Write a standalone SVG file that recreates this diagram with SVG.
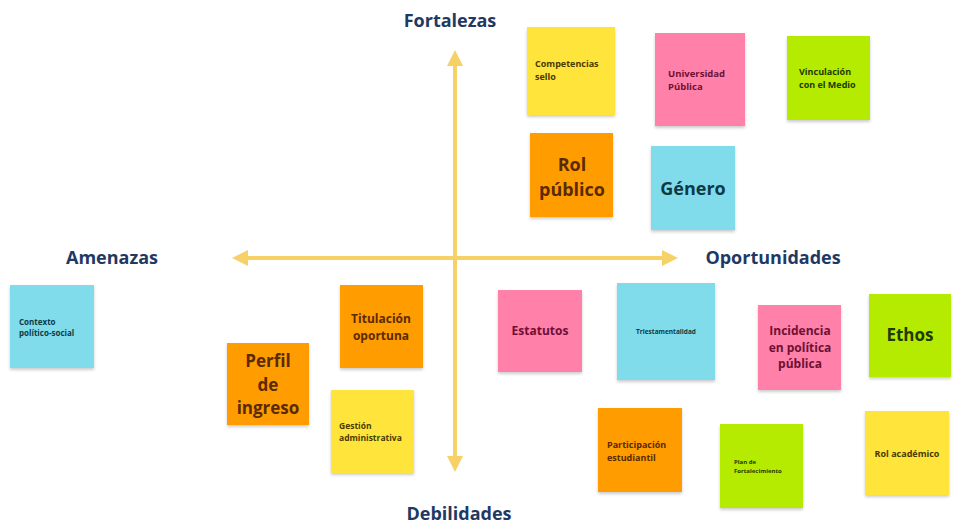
<svg xmlns="http://www.w3.org/2000/svg" width="957" height="529" viewBox="0 0 957 529">
<style>
.t{font-family:"Open Sans","Liberation Sans",sans-serif;font-weight:700;fill:#1F3864;font-size:18px;text-anchor:middle}
.n{font-family:"Open Sans","Liberation Sans",sans-serif;font-weight:700}
.y{fill:#FFE53B}.p{fill:#FF80A8}.g{fill:#B4EB00}.o{fill:#FF9C00}.c{fill:#80DCEB}
.ty{fill:#4A3A00}.tp{fill:#6E1036}.tg{fill:#1E3A00}.to{fill:#5A2A00}.tc{fill:#0E3A46}
.ax{stroke:#F5D168;stroke-width:4;fill:none}
</style>
<defs>
<filter id="sh" x="-10%" y="-10%" width="125%" height="125%"><feDropShadow dx="0" dy="2" stdDeviation="1.5" flood-color="#000" flood-opacity="0.2"/></filter>
<marker id="ah" viewBox="0 0 10 10" refX="5" refY="5" markerWidth="4" markerHeight="4" orient="auto-start-reverse"><path d="M0,0 L10,5 L0,10 Z" fill="#F5D168"/></marker>
</defs>
<rect width="957" height="529" fill="#FFFFFF"/>
<g id="connectors">
<line class="ax" x1="455" y1="464" x2="455" y2="58" marker-end="url(#ah)" marker-start="url(#ah)"/>
<line class="ax" x1="240" y1="258" x2="670" y2="258" marker-end="url(#ah)" marker-start="url(#ah)"/>
</g>
<g id="titles">
<text class="t" x="450" y="27">Fortalezas</text>
<text class="t" x="112" y="264">Amenazas</text>
<text class="t" x="773" y="264">Oportunidades</text>
<text class="t" x="459" y="520">Debilidades</text>
</g>
<g id="competencias"><rect class="y" x="527" y="27" width="88" height="88" filter="url(#sh)"/><text class="n ty" font-size="9"><tspan x="535" y="67">Competencias</tspan><tspan x="535" y="79.5">sello</tspan></text></g>
<g id="universidad"><rect class="p" x="655" y="33" width="90" height="93" filter="url(#sh)"/><text class="n tp" font-size="9.5"><tspan x="668" y="77">Universidad</tspan><tspan x="668" y="90">Pública</tspan></text></g>
<g id="vinculacion"><rect class="g" x="787" y="36" width="83" height="84" filter="url(#sh)"/><text class="n tg" font-size="9" font-weight="600"><tspan x="799" y="75">Vinculación</tspan><tspan x="799" y="87.5">con el Medio</tspan></text></g>
<g id="rolpublico"><rect class="o" x="530" y="133" width="83" height="84" filter="url(#sh)"/><text class="n to" font-size="18" text-anchor="middle"><tspan x="572" y="171">Rol</tspan><tspan x="572" y="196">público</tspan></text></g>
<g id="genero"><rect class="c" x="651" y="146" width="84" height="84" filter="url(#sh)"/><text class="n tc" font-size="18" text-anchor="middle" x="693" y="195">Género</text></g>
<g id="contexto"><rect class="c" x="10" y="285" width="84" height="83" filter="url(#sh)"/><text class="n tc" font-size="8"><tspan x="19" y="325">Contexto</tspan><tspan x="19" y="336">político-social</tspan></text></g>
<g id="titulacion"><rect class="o" x="340" y="285" width="83" height="83" filter="url(#sh)"/><text class="n to" font-size="12" text-anchor="middle"><tspan x="381" y="323">Titulación</tspan><tspan x="381" y="339.5">oportuna</tspan></text></g>
<g id="perfil"><rect class="o" x="227" y="343" width="82" height="82" filter="url(#sh)"/><text class="n to" font-size="17" text-anchor="middle"><tspan x="268" y="367">Perfil</tspan><tspan x="268" y="390.5">de</tspan><tspan x="268" y="414">ingreso</tspan></text></g>
<g id="gestion"><rect class="y" x="331" y="390" width="83" height="83" filter="url(#sh)"/><text class="n ty" font-size="8.5"><tspan x="339" y="429">Gestión</tspan><tspan x="339" y="441">administrativa</tspan></text></g>
<g id="estatutos"><rect class="p" x="498" y="290" width="84" height="82" filter="url(#sh)"/><text class="n tp" font-size="12" text-anchor="middle" x="540" y="335">Estatutos</text></g>
<g id="triestamentalidad"><rect class="c" x="617" y="283" width="98" height="97" filter="url(#sh)"/><text class="n tc" font-size="6.5" font-weight="400" text-anchor="middle" x="666" y="334">Triestamentalidad</text></g>
<g id="incidencia"><rect class="p" x="758" y="305" width="83" height="85" filter="url(#sh)"/><text class="n tp" font-size="12" text-anchor="middle"><tspan x="800" y="335">Incidencia</tspan><tspan x="800" y="351.5">en política</tspan><tspan x="800" y="368">pública</tspan></text></g>
<g id="ethos"><rect class="g" x="869" y="294" width="82" height="83" filter="url(#sh)"/><text class="n tg" font-size="17" text-anchor="middle" x="910" y="341">Ethos</text></g>
<g id="participacion"><rect class="o" x="598" y="408" width="84" height="84" filter="url(#sh)"/><text class="n to" font-size="9"><tspan x="607" y="448">Participación</tspan><tspan x="607" y="460.5">estudiantil</tspan></text></g>
<g id="plan"><rect class="g" x="720" y="424" width="83" height="84" filter="url(#sh)"/><text class="n tg" font-size="6" font-weight="400"><tspan x="734" y="464">Plan de</tspan><tspan x="734" y="472.5">Fortalecimiento</tspan></text></g>
<g id="rolacademico"><rect class="y" x="865" y="411" width="84" height="84" filter="url(#sh)"/><text class="n ty" font-size="9" text-anchor="middle" x="907" y="457">Rol académico</text></g>
</svg>
